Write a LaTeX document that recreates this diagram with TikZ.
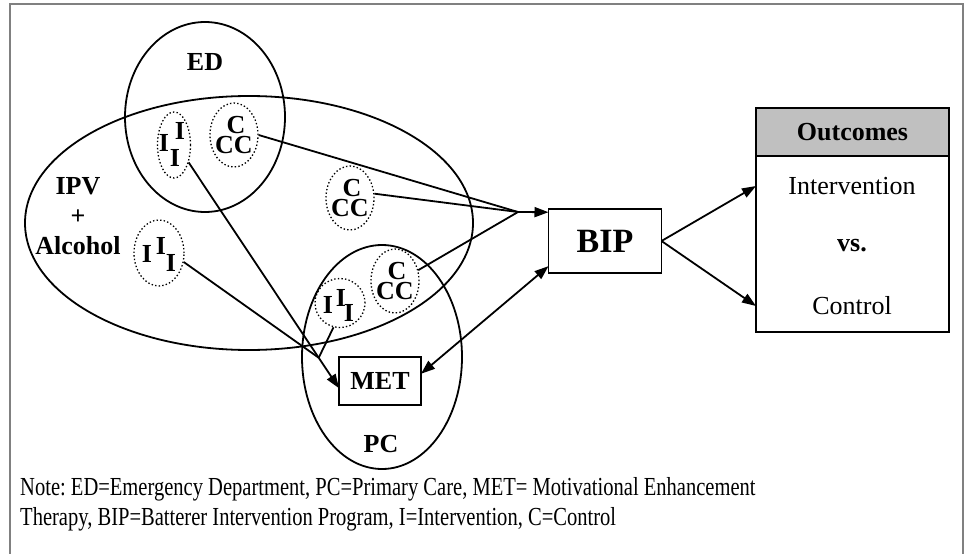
\documentclass[tikz,border=0pt]{standalone}
\usepackage{fontspec}
\setmainfont{Liberation Serif}
\usepackage{graphicx}
\usepackage{tikz}
\usetikzlibrary{calc, shapes.geometric, arrows.meta, positioning}
\definecolor{framegray}{RGB}{128, 128, 128}
\definecolor{headgray}{RGB}{192, 192, 192}
\frenchspacing

\begin{document}
\begin{tikzpicture}[
    x=1pt, y=-1pt,
    font=\fontsize{26}{30}\selectfont,
    lbl/.style={font=\fontsize{26}{30}\selectfont\bfseries, inner sep=0pt},
    stack/.style={font=\fontsize{26}{19.5}\selectfont\bfseries, inner sep=0pt, align=center},
    region/.style={draw, ellipse, line width=1.8pt, inner sep=0pt},
    grp/.style={draw, ellipse, line width=1.3pt, dash pattern=on 1.4pt off 2.2pt, inner sep=0pt},
    box/.style={draw, line width=1.8pt, inner sep=0pt, outer sep=0pt},
    ln/.style={line width=1.8pt},
    arr/.style={line width=1.8pt, -{Triangle[length=14pt, width=10pt]}},
    darr/.style={line width=1.8pt, {Triangle[length=14pt, width=10pt]}-{Triangle[length=14pt, width=10pt]}}
]
    \useasboundingbox (0,0) rectangle (967,554);
    \draw[framegray, line width=2pt] (10,554) -- (10,4) -- (963,4) -- (963,554);

    % settings
    \node[region, minimum width=448, minimum height=254] (ipv) at (249,223) {};
    \node[region, minimum width=160, minimum height=190] (ed) at (205,117) {};
    \node[region, minimum width=160, minimum height=224] (pc) at (382,357) {};
    \node[lbl] (edlbl) at (205,62) {ED};
    \node[lbl] (pclbl) at (381,444) {PC};
    \node[lbl, align=center] (ipvlbl) at (78,216) {IPV\\+\\Alcohol};

    % control groups
    \foreach \nm/\x/\y in {edC/234/135, midC/350/198, pcC/395/281} {
        \node[grp, minimum width=48, minimum height=64] (\nm) at (\x,\y) {};
        \node[stack] at (\x,\y) {\hspace*{4pt}C\\CC};
    }

    % intervention groups
    \node[grp, minimum width=33, minimum height=66] (edI) at (174,145) {};
    \node[lbl] at (164,143) {I};
    \node[lbl] at (180,131) {I};
    \node[lbl] at (175,158) {I};
    \node[grp, minimum width=50, minimum height=66] (ipvI) at (159,253) {};
    \node[lbl] at (147,254) {I};
    \node[lbl] at (161,246) {I};
    \node[lbl] at (171,263) {I};
    \node[grp, minimum width=50, minimum height=49] (pcI) at (340,303) {};
    \node[lbl] at (328,305) {I};
    \node[lbl] at (341,298) {I};
    \node[lbl] at (349,313) {I};

    % boxes
    \node[box, lbl, minimum width=82, minimum height=48] (met) at (380,381) {MET};
    \node[box, font=\fontsize{34}{40}\selectfont\bfseries, minimum width=113, minimum height=64] (bip) at (605,241) {BIP};
    \node[box, fill=headgray, minimum width=193, minimum height=48] (outhead) at (852.5,132) {\bfseries Outcomes};
    \node[box, minimum width=193, minimum height=176, below=0pt of outhead] (outbody) {};
    \node[inner sep=0pt] (intv) at (852,186) {Intervention};
    \node[lbl] (vs) at (852,246) {vs.};
    \node[inner sep=0pt] (ctrl) at (852,306) {Control};

    % connectors
    \coordinate (merge) at (518,212);
    \draw[ln] (edC.east) -- (merge);
    \draw[ln] (midC.10) -- (merge);
    \draw[ln] (pcC.25) -- (merge);
    \draw[arr] (merge) -- (bip.153);
    \draw[arr] (edI.-50) -- (met.190);
    \coordinate (join) at ($(edI.-50)!0.865!(met.190)$);
    \draw[ln] (ipvI.-20) -- (join);
    \draw[ln] (pcI.-105) -- (join);
    \draw[darr] (met.10) -- (bip.204);
    \draw[arr] (bip.east) -- (outbody.west |- intv);
    \draw[arr] (bip.east) -- (outbody.west |- ctrl);

    \node[anchor=west, align=left, inner sep=0pt] (note) at (20,504)
        {\scalebox{0.79}[1]{Note: ED=Emergency Department, PC=Primary Care, MET= Motivational Enhancement}\\
         \scalebox{0.79}[1]{Therapy, BIP=Batterer Intervention Program, I=Intervention, C=Control}};
\end{tikzpicture}
\end{document}
